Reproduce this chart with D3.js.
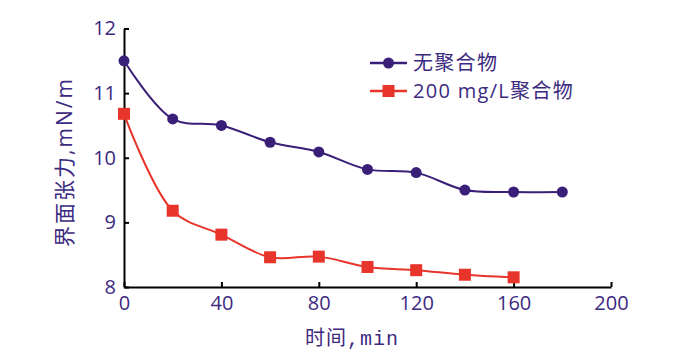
<!DOCTYPE html>
<html><head><meta charset="utf-8">
<script src="https://cdn.jsdelivr.net/npm/d3@7"></script>
<style>body{margin:0;background:#fff}</style>
</head><body>
<svg id="c" width="689" height="355"></svg>
<script>
const times = [0,20,40,60,80,100,120,140,160,180];
const noPolymer = [11.5,10.6,10.5,10.24,10.09,9.82,9.77,9.5,9.47,9.47];
const timesRed = [0,20,40,60,80,100,120,140,160];
const polymer200 = [10.68,9.18,8.81,8.46,8.47,8.31,8.26,8.19,8.15];
const xTicks = [0,40,80,120,160,200];
const yTicks = [8,9,10,11,12];
const seriesNames = ["无聚合物","200 mg/L聚合物"];
const textColor = "#3b2a80", blue = "#3a1f78", red = "#e8352b";

const svg = d3.select("#c");
const x = d3.scaleLinear().domain([0,200]).range([124,611]);
const y = d3.scaleLinear().domain([8,12]).range([287,28.5]);
const fmt = d3.format("d");

svg.append("g").attr("transform","translate(0,287)")
  .call(d3.axisBottom(x).tickValues(xTicks).tickFormat(fmt).tickSizeInner(-5).tickSizeOuter(0).tickPadding(9))
  .call(g=>{g.select(".domain").attr("stroke","#000").attr("stroke-width",2);
    g.selectAll("line").attr("stroke","#000").attr("stroke-width",2);
    g.selectAll("text").attr("fill",textColor).attr("font-size",20).attr("font-family","Open Sans, sans-serif");});
svg.append("g").attr("transform","translate(124,0)")
  .call(d3.axisLeft(y).tickValues(yTicks).tickFormat(fmt).tickSizeInner(-5).tickSizeOuter(0).tickPadding(8))
  .call(g=>{g.select(".domain").attr("stroke","#000").attr("stroke-width",2);
    g.selectAll("line").attr("stroke","#000").attr("stroke-width",2);
    g.selectAll("text").attr("fill",textColor).attr("font-size",20).attr("font-family","Open Sans, sans-serif");});

const line = d3.line().curve(d3.curveCatmullRom.alpha(0.5)).x(d=>x(d[0])).y(d=>y(d[1]));
const blueData = times.map((t,i)=>[t,noPolymer[i]]);
const redData = timesRed.map((t,i)=>[t,polymer200[i]]);
svg.append("path").attr("d",line(blueData)).attr("fill","none").attr("stroke",blue).attr("stroke-width",2);
svg.append("path").attr("d",line(redData)).attr("fill","none").attr("stroke",red).attr("stroke-width",2);
svg.selectAll(".bd").data(blueData).join("circle").attr("cx",d=>x(d[0])).attr("cy",d=>y(d[1])).attr("r",5.5).attr("fill",blue);
svg.selectAll(".rd").data(redData).join("rect").attr("x",d=>x(d[0])-6).attr("y",d=>y(d[1])-6).attr("width",12).attr("height",12).attr("fill",red);

// legend
const lg = svg.append("g");
[[blue,"c"],[red,"r"]].forEach((s,i)=>{
  const ly = 63 + i*28;
  lg.append("line").attr("x1",370).attr("x2",407).attr("y1",ly).attr("y2",ly).attr("stroke",s[0]).attr("stroke-width",2.5);
  if(s[1]==="c") lg.append("circle").attr("cx",388.5).attr("cy",ly).attr("r",5.5).attr("fill",s[0]);
  else lg.append("rect").attr("x",382.5).attr("y",ly-6).attr("width",12).attr("height",12).attr("fill",s[0]);
  lg.append("text").attr("x",413).attr("y",ly+7).attr("fill",textColor).attr("font-size",20).attr("letter-spacing",1.3)
    .attr("font-family","Open Sans, Noto Sans CJK SC, sans-serif").text(seriesNames[i]);
});

svg.append("text").attr("x",305).attr("y",345).attr("fill",textColor).attr("font-size",20).attr("letter-spacing",1)
  .attr("font-family","Liberation Mono, Noto Sans CJK SC, monospace").text("时间,min");
svg.append("text").attr("transform","translate(72,162) rotate(-90)").attr("text-anchor","middle")
  .attr("fill",textColor).attr("font-size",21).attr("letter-spacing",2)
  .attr("font-family","Open Sans, Noto Sans CJK SC, sans-serif").text("界面张力,mN/m");
</script>
</body></html>
